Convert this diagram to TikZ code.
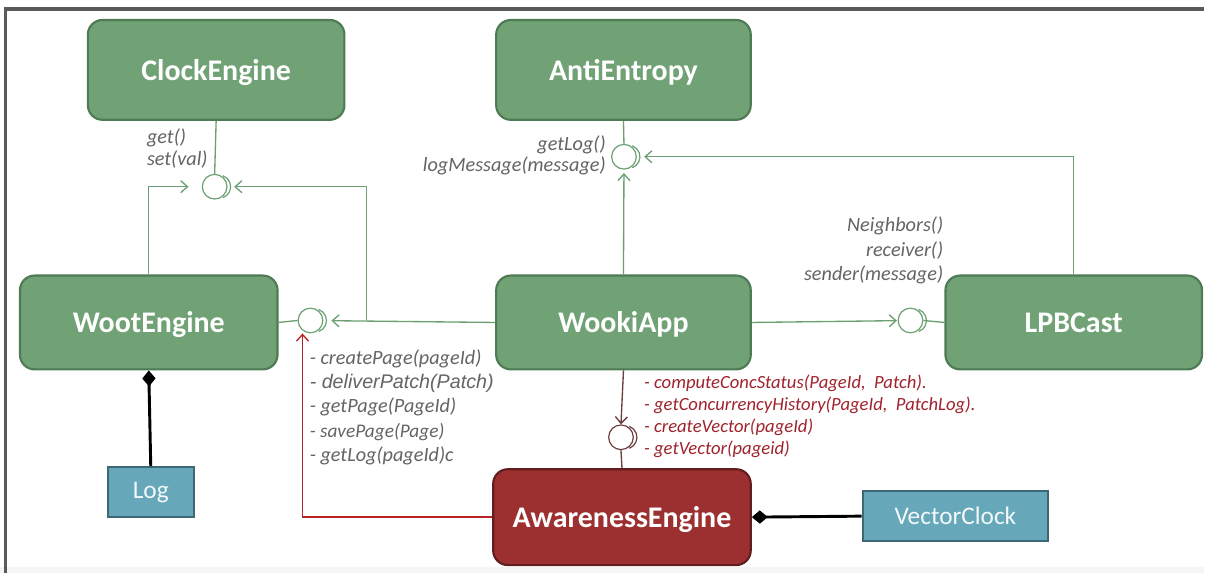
\documentclass[tikz,border=0pt]{standalone}
\usepackage{fontspec}
\setmainfont{Carlito}
\newfontfamily\arialfont{Liberation Sans}
\usetikzlibrary{arrows.meta}
\definecolor{gfill}{RGB}{112,162,118}
\definecolor{gdraw}{RGB}{78,122,84}
\definecolor{glinec}{RGB}{108,160,114}
\definecolor{rfill}{RGB}{156,48,48}
\definecolor{rdraw}{RGB}{98,30,30}
\definecolor{tfill}{RGB}{102,168,186}
\definecolor{tdraw}{RGB}{60,104,116}
\definecolor{txtgray}{RGB}{100,100,100}
\definecolor{txtred}{RGB}{160,35,45}
\definecolor{brownc}{RGB}{110,62,62}
\definecolor{redc}{RGB}{185,35,35}
\begin{document}
\begin{tikzpicture}[x=0.75pt,y=-0.75pt,
  gbox/.style={rounded corners=11pt, fill=gfill, draw=gdraw, line width=1.6pt, text=white,
     font=\fontsize{22.5}{26}\selectfont\bfseries, inner sep=0pt, text depth=0pt},
  rbox/.style={gbox, fill=rfill, draw=rdraw},
  tbox/.style={fill=tfill, draw=tdraw, line width=1.6pt, text=white!92!tfill,
     font=\fontsize{19}{22}\selectfont, inner sep=0pt},
  iface/.style={circle, draw=#1, line width=0.9pt, minimum size=18.5pt, inner sep=0pt, fill=white},
  gline/.style={draw=glinec, line width=1pt},
  garrow/.style={gline, -{Straight Barb[length=5pt,width=9pt,line width=1pt]}},
  compo/.style={draw=black, line width=2.2pt, {Diamond[length=12pt,width=10pt]}-},
  mtext/.style={font=\fontsize{15.2}{18}\selectfont\itshape, text=txtgray, inner sep=0pt},
  rtext/.style={font=\fontsize{14}{17}\selectfont\itshape, text=txtred, inner sep=0pt}
]
% background and frame
\fill[white] (0,0) rectangle (1206,574);
\fill[gray!8] (0,568) rectangle (1206,574);
\draw[draw={rgb,255:red,90;green,90;blue,90}, line width=3pt] (4,9) -- (1206,9);
\draw[draw={rgb,255:red,90;green,90;blue,90}, line width=2.6pt] (5.5,8) -- (5.5,574);
\useasboundingbox (0,0) rectangle (1206,574);

% main nodes
\node[gbox, minimum width=192.75pt, minimum height=75pt] (clock) at (216.5,70) {ClockEngine};
\node[gbox, minimum width=191.25pt, minimum height=75pt] (anti) at (624.5,70) {AntiEntropy};
\node[gbox, minimum width=193.5pt, minimum height=70.5pt] (woot) at (149,323) {WootEngine};
\node[gbox, minimum width=191.25pt, minimum height=70.5pt] (wooki) at (624.5,323) {WookiApp};
\node[gbox, minimum width=192.75pt, minimum height=70.5pt] (lpb) at (1075.5,323) {LPBCast};
\node[rbox, minimum width=193.5pt, minimum height=72pt] (aware) at (623,518) {AwarenessEngine};
\node[tbox, minimum width=64.5pt, minimum height=37.5pt] (log) at (151,493) {Log};
\node[tbox, minimum width=139.5pt, minimum height=37.5pt] (vclock) at (957,517) {VectorClock};

% interfaces
\node[iface=glinec] (iClock) at (215,187) {};
\node[iface=glinec] (iAnti) at (625,157) {};
\node[iface=glinec] (iWoot) at (311,321) {};
\node[iface=glinec] (iLpb) at (912,321) {};
\node[iface=brownc] (iAw) at (622,438) {};
\foreach \n/\c in {iClock/glinec,iAnti/glinec,iWoot/glinec,iLpb/glinec,iAw/brownc}{
  \draw[draw=\c, line width=0.9pt] (\n.center) ++(3.2pt,0) ++(-70:8.8pt) arc[start angle=-70,end angle=70,radius=8.8pt];
}
\coordinate (j1) at (367,321);
\coordinate (rtip) at (303,334);

% connectors
\draw[gline] (clock.south) -- (iClock.north);
\draw[garrow, shorten >=10pt] (woot.north) |- (iClock);
\draw[garrow, shorten >=5pt] (j1) |- (iClock);
\draw[garrow, shorten >=6pt] (wooki.west) -- (iWoot);
\draw[gline] (woot.east) -- (iWoot.west);
\draw[gline] (anti.south) -- (iAnti.north);
\draw[garrow, shorten >=2.5pt] (wooki.north) -- (iAnti.south);
\draw[garrow, shorten >=5.5pt] (lpb.north) |- (iAnti);
\draw[garrow, shorten >=0.5pt] (wooki.east) -- (iLpb);
\draw[gline] (iLpb.east) -- (lpb.west);
\draw[draw=brownc, line width=1pt, -{Straight Barb[length=5pt,width=9pt,line width=1pt]}] (wooki.south) -- (iAw.north);
\draw[draw=brownc, line width=1pt] (iAw.south) -- (aware.north);
\draw[draw=redc, line width=1pt, -{Straight Barb[length=5pt,width=9pt,line width=1pt]}] (aware.west) -| (rtip);
\draw[compo] (woot.south) -- (log.north);
\draw[compo] (aware.east) -- (vclock.west);

% operation labels
\node[mtext, anchor=west] (t1) at (147,138) {get()};
\node[mtext, anchor=west] (t2) at (147,160) {set(val)};
\node[mtext, anchor=east] (t3) at (607,145) {getLog()};
\node[mtext, anchor=east] (t4) at (607,166) {logMessage(message)};
\node[mtext, anchor=east] (t5) at (945,226) {Neighbors()};
\node[mtext, anchor=east] (t6) at (945,251) {receiver()};
\node[mtext, anchor=east] (t7) at (945,275) {sender(message)};
\node[mtext, anchor=west] (l1) at (310,359) {- createPage(pageId)};
\node[mtext, anchor=west, font=\arialfont\fontsize{14.8}{17}\selectfont\itshape] (l2) at (310,384) {- deliverPatch(Patch)};
\node[mtext, anchor=west] (l3) at (310,408) {- getPage(PageId)};
\node[mtext, anchor=west, font=\fontsize{14.5}{17}\selectfont\itshape] (l4) at (310,433) {- savePage(Page)};
\node[mtext, anchor=west] (l5) at (310,457) {- getLog(pageId)c};
\node[rtext, anchor=west] (r1) at (645,384) {- computeConcStatus(PageId,\ \ Patch).};
\node[rtext, anchor=west] (r2) at (645,406) {- getConcurrencyHistory(PageId,\ \ PatchLog).};
\node[rtext, anchor=west] (r3) at (645,428) {- createVector(pageId)};
\node[rtext, anchor=west] (r4) at (645,450) {- getVector(pageid)};
\end{tikzpicture}
\end{document}
